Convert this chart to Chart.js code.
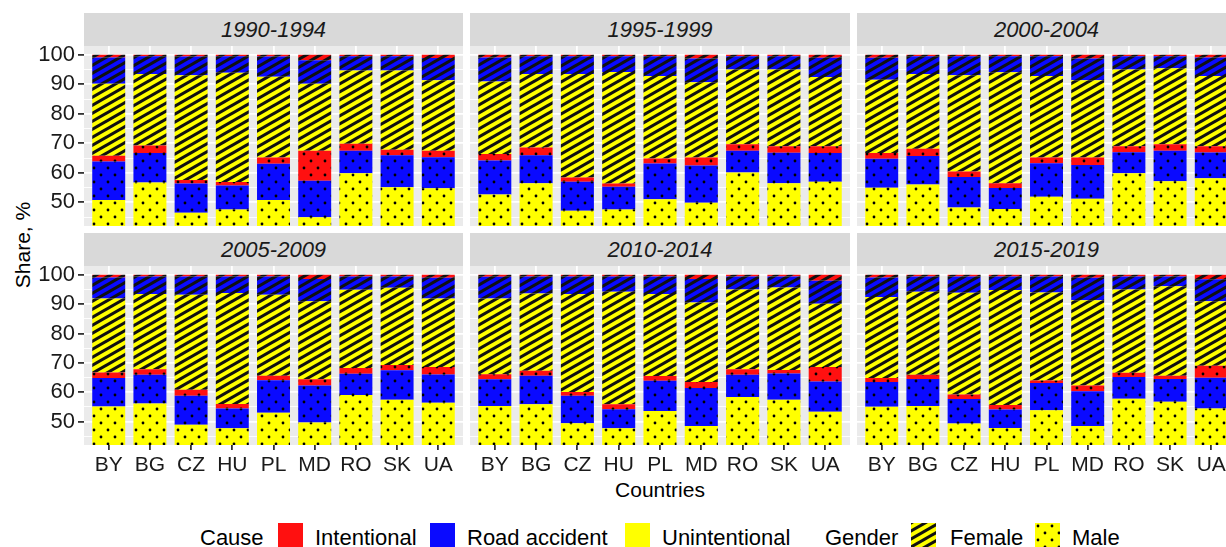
<!DOCTYPE html>
<html>
<head>
<meta charset="utf-8">
<script src="https://cdn.jsdelivr.net/npm/chart.js@4.4.1/dist/chart.umd.min.js"></script>
<style>
    body { margin: 0; background: #fff; font-family: "Liberation Sans", Arial, sans-serif; color: #1a1a1a; }
    #wrap { position: relative; width: 1226px; height: 547px; overflow: hidden; }
    .strip { position: absolute; height: 33px; background: #d9d9d9; font-style: italic; font-size: 22px; line-height: 34px; text-align: center; color: #1a1a1a; }
    canvas { position: absolute; }
    .lbl { position: absolute; font-size: 21px; line-height: 21px; white-space: nowrap; color: #000; }
    .leg { position: absolute; font-size: 22px; line-height: 22px; white-space: nowrap; color: #000; top: 527px; }
</style>
</head>
<body>
<div id="wrap">
    <div class="lbl" style="left:22px; top:245px; transform: translate(-50%, -50%) rotate(-90deg);">Share, %</div>
    <div class="lbl" style="left:660px; top:479px; transform: translateX(-50%);">Countries</div>
</div>
<script>
const countries = ['BY', 'BG', 'CZ', 'HU', 'PL', 'MD', 'RO', 'SK', 'UA'];
const periods = ['1990-1994', '1995-1999', '2000-2004', '2005-2009', '2010-2014', '2015-2019'];
const yTicks = [45, 50, 55, 60, 65, 70, 75, 80, 85, 90, 95, 100];

// one row per period, one value per country (share, %)
const maleUnintentional = [
    [50.8, 56.7, 46.5, 47.6, 50.8, 45.0, 59.9, 55.1, 54.8],
    [52.7, 56.5, 47.2, 47.6, 51.1, 49.9, 60.1, 56.5, 57.0],
    [55.0, 56.1, 48.3, 47.8, 51.9, 51.2, 59.9, 57.2, 58.2],
    [55.1, 56.1, 48.9, 47.7, 53.0, 49.7, 59.0, 57.4, 56.4],
    [55.3, 55.9, 49.4, 47.7, 53.6, 48.5, 58.4, 57.4, 53.3],
    [55.0, 55.3, 49.3, 47.8, 53.8, 48.5, 57.8, 56.7, 54.4]
];
const maleRoad = [
    [13.1, 10.0, 9.9, 8.1, 12.3, 12.3, 7.6, 10.9, 10.5],
    [11.5, 9.5, 9.8, 7.7, 12.1, 12.6, 7.4, 10.3, 9.7],
    [9.8, 9.6, 10.3, 7.1, 11.4, 11.5, 7.1, 10.3, 8.7],
    [9.7, 9.8, 9.9, 6.7, 11.1, 12.6, 7.3, 10.1, 9.6],
    [9.1, 9.7, 9.4, 6.5, 10.3, 12.9, 7.5, 9.0, 10.3],
    [8.5, 9.2, 8.4, 6.3, 9.3, 11.8, 7.4, 7.8, 10.5]
];
const maleIntentional = [
    [1.9, 2.6, 1.2, 1.2, 2.1, 10.2, 2.4, 1.8, 2.2],
    [2.2, 2.6, 1.4, 1.1, 1.7, 2.7, 2.2, 2.2, 2.3],
    [1.9, 2.5, 1.9, 1.6, 1.9, 2.5, 2.0, 2.2, 2.1],
    [1.9, 1.9, 2.0, 1.6, 1.5, 2.1, 1.9, 1.8, 2.6],
    [1.7, 1.7, 1.3, 1.7, 1.6, 2.1, 1.9, 1.2, 5.0],
    [1.3, 1.4, 1.5, 1.5, 0.9, 2.0, 1.4, 1.1, 4.1]
];
const femaleUnintentional = [
    [24.4, 24.2, 35.5, 37.0, 27.4, 22.7, 24.8, 26.9, 23.9],
    [24.6, 24.9, 35.1, 37.8, 27.9, 25.5, 25.3, 26.0, 23.5],
    [24.9, 25.3, 32.6, 37.6, 27.6, 26.2, 26.0, 25.8, 23.8],
    [25.2, 25.7, 32.4, 37.8, 27.6, 26.6, 26.7, 26.3, 23.3],
    [25.8, 26.3, 33.4, 38.3, 28.0, 27.1, 27.2, 28.1, 21.5],
    [27.6, 28.3, 34.7, 39.2, 30.0, 29.0, 28.4, 30.5, 22.0]
];
const femaleRoad = [
    [8.9, 6.0, 6.3, 5.6, 6.8, 8.0, 4.8, 4.8, 7.5],
    [8.1, 6.0, 6.0, 5.3, 6.7, 8.1, 4.5, 4.5, 6.5],
    [7.4, 6.0, 6.4, 5.4, 6.7, 7.4, 4.5, 4.0, 6.3],
    [7.2, 5.9, 6.2, 5.6, 6.2, 7.6, 4.5, 3.8, 7.1],
    [7.4, 5.8, 5.9, 5.2, 5.9, 8.0, 4.4, 3.7, 7.9],
    [6.7, 5.2, 5.5, 4.6, 5.4, 7.7, 4.4, 3.3, 7.5]
];
const femaleIntentional = [
    [0.9, 0.5, 0.6, 0.5, 0.6, 1.8, 0.5, 0.5, 1.1],
    [0.9, 0.5, 0.5, 0.5, 0.5, 1.2, 0.5, 0.5, 1.0],
    [1.0, 0.5, 0.5, 0.5, 0.5, 1.2, 0.5, 0.5, 0.9],
    [0.9, 0.6, 0.6, 0.6, 0.6, 1.4, 0.6, 0.6, 1.0],
    [0.7, 0.6, 0.6, 0.6, 0.6, 1.4, 0.6, 0.6, 2.0],
    [0.9, 0.6, 0.6, 0.6, 0.6, 1.0, 0.6, 0.6, 1.5]
];

const RED = '#ff1010', BLUE = '#0a0aff', YELLOW = '#ffff00';
const FONT = '"Liberation Sans", Arial, sans-serif';

// stacking order, bottom to top
const series = [
    { values: maleUnintentional, color: YELLOW, kind: 'dots' },
    { values: maleRoad, color: BLUE, kind: 'dots' },
    { values: maleIntentional, color: RED, kind: 'dots' },
    { values: femaleUnintentional, color: YELLOW, kind: 'stripes' },
    { values: femaleRoad, color: BLUE, kind: 'stripes' },
    { values: femaleIntentional, color: RED, kind: 'stripes' }
];

// facet layout (pixels)
const cols = [{ left: 84, width: 379 }, { left: 470, width: 380 }, { left: 857, width: 379 }];
const rows = [{ stripTop: 13, top: 46, height: 180 }, { stripTop: 233, top: 266, height: 179 }];

function makeTile(color, kind) {
    const t = document.createElement('canvas');
    const c = t.getContext('2d');
    if (kind === 'stripes') {
        t.width = 14; t.height = 8;
        c.fillStyle = color;
        c.fillRect(0, 0, 14, 8);
        c.strokeStyle = '#111';
        c.lineWidth = 3;
        for (let n = -1; n <= 2; n++) {
            c.beginPath();
            c.moveTo(-7, 12 + n * 8);
            c.lineTo(21, -4 + n * 8);
            c.stroke();
        }
    } else {
        t.width = 14; t.height = 14;
        c.fillStyle = color;
        c.fillRect(0, 0, 14, 14);
        c.fillStyle = '#000';
        [[3, 3], [10, 10]].forEach(p => {
            c.beginPath();
            c.arc(p[0], p[1], 1.4, 0, Math.PI * 2);
            c.fill();
        });
    }
    return t;
}

function makePattern(ctx, color, kind) {
    return ctx.createPattern(makeTile(color, kind), 'repeat');
}

const panelBg = {
    id: 'panelBg',
    beforeDraw(chart) {
        const { ctx, chartArea: a } = chart;
        ctx.save();
        ctx.fillStyle = '#ebebeb';
        ctx.fillRect(a.left, a.top, a.right - a.left, a.bottom - a.top);
        ctx.restore();
    }
};

const wrap = document.getElementById('wrap');

periods.forEach((period, p) => {
    const col = p % 3;
    const row = Math.floor(p / 3);
    const showY = col === 0;
    const showX = row === 1;

    // facet strip
    const strip = document.createElement('div');
    strip.className = 'strip';
    strip.style.left = cols[col].left + 'px';
    strip.style.width = cols[col].width + 'px';
    strip.style.top = rows[row].stripTop + 'px';
    strip.textContent = period;
    wrap.appendChild(strip);

    const canvas = document.createElement('canvas');
    const left = showY ? 0 : cols[col].left;
    const width = showY ? cols[0].left + cols[0].width : cols[col].width;
    const height = rows[row].height + (showX ? 30 : 0);
    canvas.width = width;
    canvas.height = height;
    canvas.style.left = left + 'px';
    canvas.style.top = rows[row].top + 'px';
    wrap.appendChild(canvas);
    const ctx = canvas.getContext('2d');

    const datasets = series.map(s => ({
        data: countries.map((c, i) => ({ x: i, y: s.values[p][i] })),
        backgroundColor: makePattern(ctx, s.color, s.kind),
        borderWidth: 0,
        categoryPercentage: 0.8,
        barPercentage: 1
    }));

    new Chart(ctx, {
        type: 'bar',
        data: { datasets: datasets },
        plugins: [panelBg],
        options: {
            responsive: false,
            animation: false,
            devicePixelRatio: 1,
            layout: { padding: 0 },
            plugins: { legend: { display: false }, tooltip: { enabled: false } },
            scales: {
                x: {
                    type: 'linear',
                    min: -0.6,
                    max: 8.6,
                    offset: false,
                    stacked: true,
                    afterBuildTicks: s => { s.ticks = countries.map((c, i) => ({ value: i })); },
                    afterFit: s => { s.height = showX ? 30 : 0; s.paddingLeft = 0; s.paddingRight = 0; },
                    grid: { offset: false, color: '#fff', lineWidth: 1.8, drawTicks: showX, tickLength: 5, tickColor: '#333' },
                    border: { display: false },
                    ticks: {
                        display: showX,
                        autoSkip: false,
                        maxRotation: 0,
                        padding: 3,
                        color: '#1a1a1a',
                        font: { family: FONT, size: 21 },
                        callback: v => countries[v]
                    }
                },
                y: {
                    stacked: true,
                    min: 42,
                    max: 103,
                    afterBuildTicks: s => { s.ticks = yTicks.map(v => ({ value: v })); },
                    afterFit: s => { s.width = showY ? 84 : 0; s.paddingTop = 0; s.paddingBottom = 0; },
                    grid: {
                        color: '#fff',
                        lineWidth: c => (c.tick && c.tick.value % 10 === 0) ? 1.8 : 0.9,
                        drawTicks: showY,
                        tickLength: 6,
                        tickColor: c => (c.tick && c.tick.value % 10 === 0) ? '#333' : 'rgba(0,0,0,0)'
                    },
                    border: { display: false },
                    ticks: {
                        display: showY,
                        autoSkip: false,
                        padding: 3,
                        color: '#1a1a1a',
                        font: { family: FONT, size: 22 },
                        callback: v => (v % 10 === 0 ? String(v) : '')
                    }
                }
            }
        }
    });
});

// legend
const legendItems = [
    { text: 'Cause', left: 200 },
    { key: RED, left: 278 },
    { text: 'Intentional', left: 315 },
    { key: BLUE, left: 430 },
    { text: 'Road accident', left: 467 },
    { key: YELLOW, left: 625 },
    { text: 'Unintentional', left: 662 },
    { text: 'Gender', left: 825 },
    { key: YELLOW, kind: 'stripes', left: 911 },
    { text: 'Female', left: 950 },
    { key: YELLOW, kind: 'dots', left: 1035 },
    { text: 'Male', left: 1072 }
];

legendItems.forEach(item => {
    if (item.text) {
        const d = document.createElement('div');
        d.className = 'leg';
        d.style.left = item.left + 'px';
        d.textContent = item.text;
        wrap.appendChild(d);
    } else {
        const k = document.createElement('canvas');
        k.width = 25; k.height = 25;
        k.style.left = item.left + 'px';
        k.style.top = '523px';
        const kc = k.getContext('2d');
        kc.fillStyle = item.kind ? makePattern(kc, item.key, item.kind) : item.key;
        kc.fillRect(0, 0, 25, 25);
        wrap.appendChild(k);
    }
});
</script>
</body>
</html>
